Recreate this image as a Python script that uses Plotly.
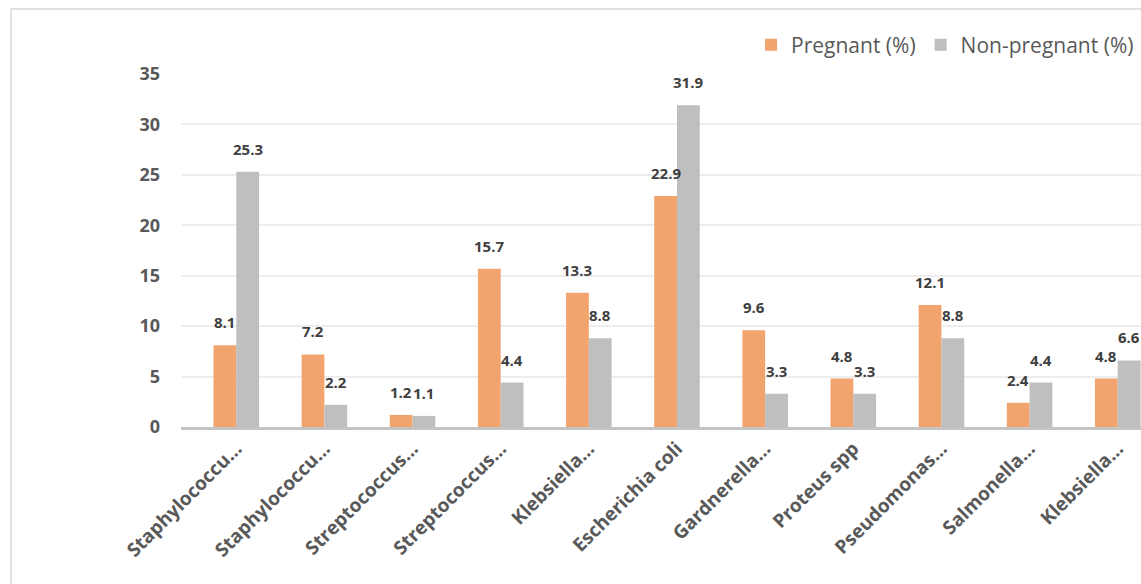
import plotly.graph_objects as go

categories = ["Staphylococcu…", "Staphylococcu…", "Streptococcus…", "Streptococcus…",
              "Klebsiella…", "Escherichia coli", "Gardnerella…", "Proteus spp",
              "Pseudomonas…", "Salmonella…", "Klebsiella…"]
pregnant = [8.1, 7.2, 1.2, 15.7, 13.3, 22.9, 9.6, 4.8, 12.1, 2.4, 4.8]
non_pregnant = [25.3, 2.2, 1.1, 4.4, 8.8, 31.9, 3.3, 3.3, 8.8, 4.4, 6.6]
y_ticks = [0, 5, 10, 15, 20, 25, 30, 35]

x = list(range(len(categories)))
ORANGE = "#F2A46F"
GRAY = "#BFBFBF"
FONT = "Open Sans"

fig = go.Figure()
fig.add_trace(go.Bar(x=x, y=pregnant, name="Pregnant (%)", marker_color=ORANGE,
                     marker_line_width=0))
fig.add_trace(go.Bar(x=x, y=non_pregnant, name="Non-pregnant (%)", marker_color=GRAY,
                     marker_line_width=0))

annotations = []
half = 11.4
for xi, v in zip(x, pregnant):
    annotations.append(dict(x=xi, y=v, xref="x", yref="y", text=f"<b>{v}</b>",
                            showarrow=False, xshift=-half, yshift=11, yanchor="bottom",
                            font=dict(family=FONT, size=15, color="#404040")))
for xi, v in zip(x, non_pregnant):
    annotations.append(dict(x=xi, y=v, xref="x", yref="y", text=f"<b>{v}</b>",
                            showarrow=False, xshift=half, yshift=11, yanchor="bottom",
                            font=dict(family=FONT, size=15, color="#404040")))

fig.update_layout(
    width=1141, height=584,
    margin=dict(l=181, r=0, t=74, b=157),
    plot_bgcolor="white", paper_bgcolor="white",
    barmode="group", bargap=0.483, bargroupgap=0,
    font=dict(family=FONT, color="#595959"),
    showlegend=True,
    legend=dict(orientation="h", x=0.998, xanchor="right", y=1.082, yanchor="middle",
                font=dict(family=FONT, size=21, color="#595959"),
                itemwidth=30, traceorder="normal"),
    annotations=annotations,
    shapes=[dict(type="rect", xref="paper", yref="paper", x0=-0.177, x1=1.05,
                 y0=-0.6, y1=1.184, line=dict(color="#D9D9D9", width=1.5),
                 fillcolor="rgba(0,0,0,0)", layer="below")],
)
fig.update_xaxes(
    range=[-0.627, 10.264], tickmode="array", tickvals=x, ticktext=[f"<b>{c}</b>" for c in categories],
    tickangle=-45, tickfont=dict(family=FONT, size=19, color="#595959"),
    showline=True, linecolor="#C4C4C4", linewidth=3, showgrid=False, ticks="",
    zeroline=False,
)
fig.update_yaxes(
    range=[0, 35], tickmode="array", tickvals=y_ticks, ticktext=[f"<b>{t}</b>" for t in y_ticks],
    tickfont=dict(family=FONT, size=18, color="#595959"),
    showgrid=True, gridcolor="#EDEDED", gridwidth=1.5, zeroline=False, showline=False,
    ticks="", ticklabelstandoff=20,
)

fig.write_html("out.html")
